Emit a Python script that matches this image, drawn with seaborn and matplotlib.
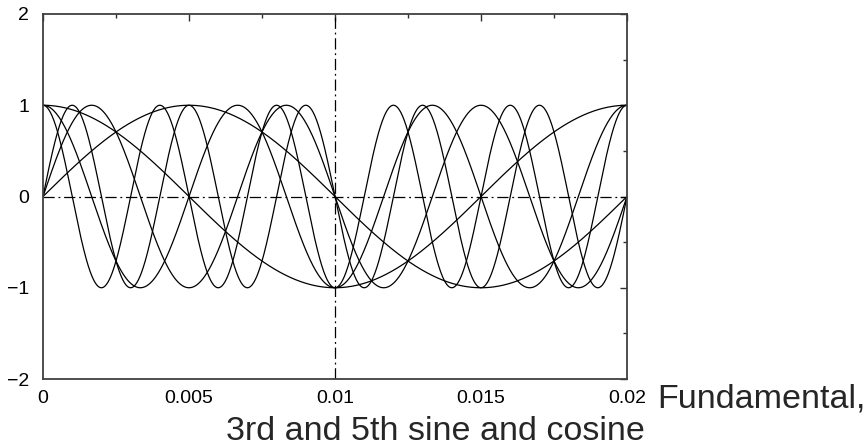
import numpy as np
import pandas as pd
import matplotlib
matplotlib.use("Agg")
import matplotlib.pyplot as plt
from matplotlib.ticker import MultipleLocator
import seaborn as sns

# One period of the 50 Hz fundamental and its odd harmonics
period = 0.02
harmonics = [1, 3, 5]
functions = ["sin", "cos"]
x_ticks = [0, 0.005, 0.01, 0.015, 0.02]
x_tick_labels = ["0", "0.005", "0.01", "0.015", "0.02"]
y_ticks = [-2, -1, 0, 1, 2]
y_tick_labels = ["\u22122", "\u22121", "0", "1", "2"]
caption_lines = ["Fundamental,", "3rd and 5th sine and cosine"]

t = np.linspace(0, period, 1201)
frames = []
for n in harmonics:
    for f in functions:
        phase = 2 * np.pi * n * t / period
        v = np.sin(phase) if f == "sin" else np.cos(phase)
        frames.append(pd.DataFrame({"t": t, "v": v, "curve": f"{f}{n}"}))
df = pd.concat(frames, ignore_index=True)

sns.set_style("white")
plt.rcParams["font.family"] = ["Liberation Sans", "DejaVu Sans"]

W, H = 868, 446
fig = plt.figure(figsize=(W / 100, H / 100), dpi=100)
ax = fig.add_axes([43 / W, 1 - 379 / H, (627 - 43) / W, (379 - 14) / H])

ax.axhline(0, color="black", lw=0.9, dashes=(9, 3, 1.5, 3))
ax.axvline(0.01, color="black", lw=0.9, dashes=(9, 3, 1.5, 3))

sns.lineplot(data=df, x="t", y="v", units="curve", estimator=None,
             color="black", lw=0.9, ax=ax, legend=False)

ax.set_xlim(0, period)
ax.set_ylim(-2, 2)
ax.set_xticks(x_ticks)
ax.set_xticklabels(x_tick_labels)
ax.set_yticks(y_ticks)
ax.set_yticklabels(y_tick_labels)
ax.xaxis.set_minor_locator(MultipleLocator(0.0025))
ax.yaxis.set_minor_locator(MultipleLocator(0.5))
ax.set_xlabel("")
ax.set_ylabel("")

ax.tick_params(which="both", direction="in", top=True, right=True,
               color="#303030", width=1.0, labelsize=14, labelcolor="black")
ax.tick_params(axis="x", which="major", length=5, pad=8)
ax.tick_params(axis="y", which="major", length=5, pad=10)
ax.tick_params(which="minor", length=2.7)

for s in ax.spines.values():
    s.set_color("#404040")
    s.set_linewidth(1.3)
    s.set_visible(True)

fig.text(657 / W, 1 - 407 / H, caption_lines[0], fontsize=24.5,
         ha="left", va="baseline")
fig.text(645 / W, 1 - 440 / H, caption_lines[1], fontsize=24.5,
         ha="right", va="baseline")

fig.savefig("out.png", dpi=100)
